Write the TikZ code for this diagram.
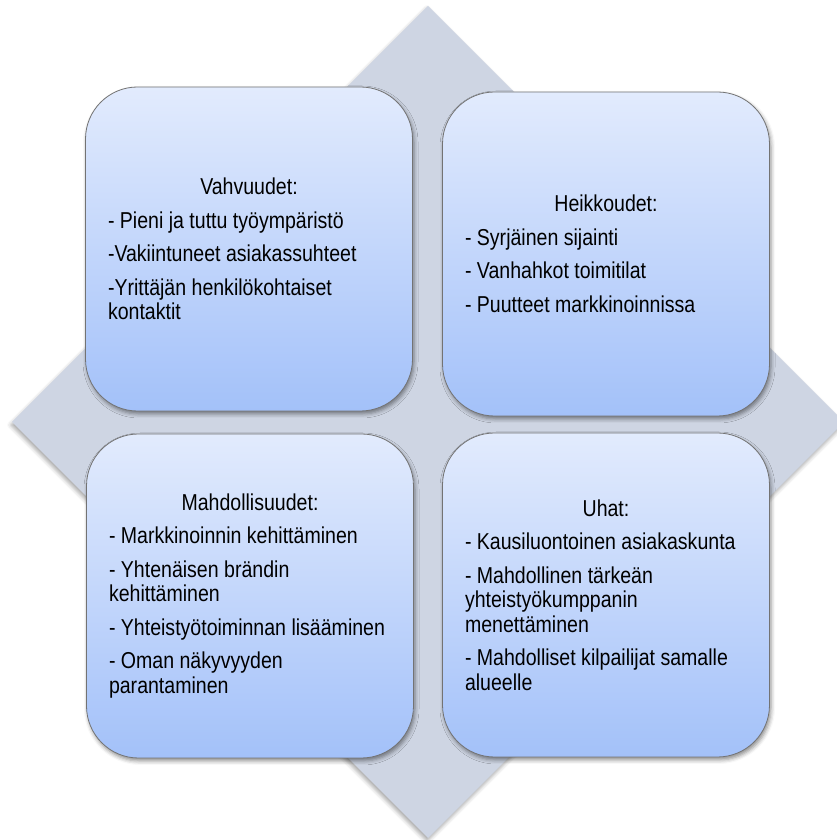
\documentclass[tikz,border=0pt]{standalone}
\usepackage{fontspec}
\setmainfont{Liberation Sans}[FakeStretch=0.85]
\usepackage{tikz}
\usepackage{xcolor}
\usetikzlibrary{shadows.blur}
\definecolor{diamondgray}{HTML}{CED5E3}
\definecolor{boxtop}{HTML}{E2EBFD}
\definecolor{boxbottom}{HTML}{A3C1F9}
\tikzset{
    swot-back/.style = {fill=diamondgray, blur shadow={shadow xshift=-1pt, shadow yshift=-3pt, shadow blur radius=4pt, shadow opacity=35}},
    swot-box/.style = {draw=black!55, line width=0.8pt, rectangle, rounded corners=52pt, top color=boxtop, bottom color=boxbottom, minimum width=327pt, minimum height=324pt, inner sep=0pt, font=\fontsize{23}{24.5}\selectfont, blur shadow={shadow xshift=1.5pt, shadow yshift=-3pt, shadow blur radius=4pt, shadow opacity=45}},
}

\begin{document}
\begin{tikzpicture}[x=1pt, y=1pt]
\useasboundingbox (0,0) rectangle (836,840);
% background diamond
\path[swot-back] (428,834) -- (844,418) -- (428,2) -- (12,418) -- cycle;

\node [swot-box] (strengths) at (249,591) {\begin{minipage}{282pt}\setlength{\parskip}{9pt}
    \centering Vahvuudet:\par
    \raggedright - Pieni ja tuttu työympäristö\par
    -Vakiintuneet asiakassuhteet\par
    -Yrittäjän henkilökohtaiset\\ kontaktit
\end{minipage}};
\node [swot-box] (weaknesses) at (606,586) {\begin{minipage}{282pt}\setlength{\parskip}{9pt}
    \centering Heikkoudet:\par
    \raggedright - Syrjäinen sijainti\par
    - Vanhahkot toimitilat\par
    - Puutteet markkinoinnissa
\end{minipage}};
\node [swot-box] (opportunities) at (250,244) {\begin{minipage}{282pt}\setlength{\parskip}{9pt}
    \centering Mahdollisuudet:\par
    \raggedright - Markkinoinnin kehittäminen\par
    - Yhtenäisen brändin\\ kehittäminen\par
    - Yhteistyötoiminnan lisääminen\par
    - Oman näkyvyyden\\ parantaminen
\end{minipage}};
\node [swot-box] (threats) at (606,245) {\begin{minipage}{282pt}\setlength{\parskip}{9pt}
    \centering Uhat:\par
    \raggedright - Kausiluontoinen asiakaskunta\par
    - Mahdollinen tärkeän\\ yhteistyökumppanin\\ menettäminen\par
    - Mahdolliset kilpailijat samalle\\ alueelle
\end{minipage}};
\end{tikzpicture}
\end{document}
